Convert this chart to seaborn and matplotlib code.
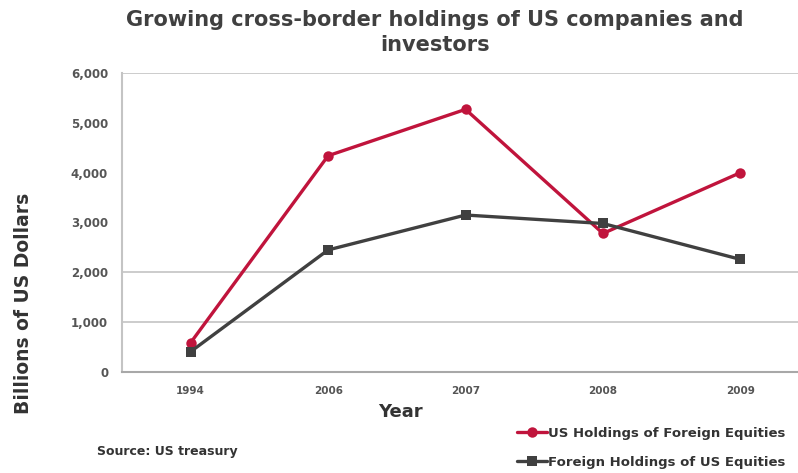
import matplotlib
matplotlib.use("Agg")
import matplotlib.pyplot as plt
import seaborn as sns
import pandas as pd
from matplotlib.ticker import FuncFormatter, FixedLocator

years = ["1994", "2006", "2007", "2008", "2009"]
us_foreign = [590, 4340, 5270, 2780, 4000]
foreign_us = [410, 2450, 3150, 2980, 2260]
series_names = ["US Holdings of Foreign Equities", "Foreign Holdings of US Equities"]
colors = ["#C0143C", "#404040"]

df = pd.DataFrame({
    "Year": years * 2,
    "Value": us_foreign + foreign_us,
    "Series": [series_names[0]] * len(years) + [series_names[1]] * len(years),
})

sns.set_theme(style="white")
plt.rcParams["font.family"] = ["DejaVu Sans"]

fig = plt.figure(figsize=(7.98, 4.73), dpi=100)
ax = fig.add_axes([0.1529, 0.2135, 0.861, 0.6322])

sns.lineplot(data=df, x="Year", y="Value", hue="Series", style="Series",
             palette=dict(zip(series_names, colors)),
             markers={series_names[0]: "o", series_names[1]: "s"},
             dashes=False, linewidth=2.4, markersize=7.5, markeredgewidth=0,
             sort=False, ax=ax, legend=True)

ax.set_xlim(-0.5, 4.5)
ax.set_ylim(0, 6000)
ax.set_yticks(range(0, 6001, 1000))
ax.yaxis.set_major_formatter(FuncFormatter(lambda v, p: f"{int(v):,}"))
for gy in [1000, 2000, 6000]:
    ax.axhline(gy, color="#c4c4c4", linewidth=1.2, zorder=0)

ax.xaxis.set_minor_locator(FixedLocator([0.5, 1.5, 2.5, 3.5]))
ax.tick_params(axis="x", which="major", length=0, pad=10, labelsize=7.5, labelcolor="#555555")
ax.tick_params(axis="x", which="minor", length=4, width=1, color="#aaaaaa", direction="out")
ax.tick_params(axis="y", which="major", length=4, width=1, color="#aaaaaa", direction="out",
               labelsize=8.5, labelcolor="#555555", pad=6)
for lab in ax.get_xticklabels() + ax.get_yticklabels():
    lab.set_fontweight("bold")

for s in ["top", "right"]:
    ax.spines[s].set_visible(False)
ax.spines["left"].set_color("#c4c4c4")
ax.spines["left"].set_linewidth(1.5)
ax.spines["bottom"].set_color("#a8a8a8")
ax.spines["bottom"].set_linewidth(1.5)

ax.set_xlabel("")
ax.set_ylabel("")
fig.text(400 / 798, 1 - 412 / 473, "Year", ha="center", va="center",
         fontsize=13, fontweight="bold", color="#333333")
fig.text(24 / 798, 1 - 303 / 473, "Billions of US Dollars", ha="center", va="center",
         rotation=90, fontsize=13.5, fontweight="bold", color="#333333")

fig.text(435 / 798, 1 - 20 / 473, "Growing cross-border holdings of US companies and",
         ha="center", va="center", fontsize=15, fontweight="bold", color="#404040")
fig.text(435 / 798, 1 - 45 / 473, "investors",
         ha="center", va="center", fontsize=15, fontweight="bold", color="#404040")

fig.text(97 / 798, 1 - 451 / 473, "Source: US treasury", ha="left", va="center",
         fontsize=9, fontweight="bold", color="#333333")

handles, labels = ax.get_legend_handles_labels()
leg = ax.legend(handles, labels, loc="center left",
                bbox_to_anchor=(510 / 798, 1 - 448 / 473), bbox_transform=fig.transFigure,
                frameon=False, prop={"weight": "bold", "size": 9.5},
                handlelength=2.3, handletextpad=0.05, labelspacing=1.2, borderpad=0)
for t in leg.get_texts():
    t.set_color("#333333")

fig.savefig("out.png", dpi=100)
